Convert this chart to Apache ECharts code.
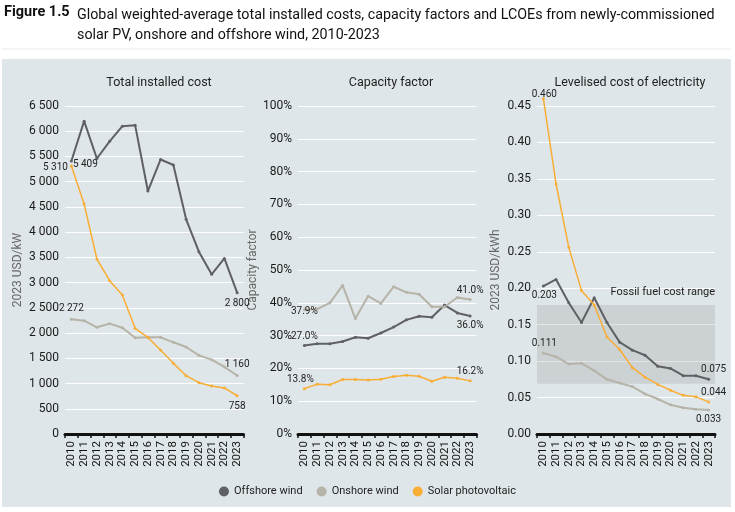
<!DOCTYPE html>
<html>
<head>
<meta charset="utf-8">
<script src="https://cdn.jsdelivr.net/npm/echarts@6/dist/echarts.min.js"></script>
<style>html,body{margin:0;padding:0;background:#fff}#c{width:735px;height:512px}</style>
</head>
<body>
<div id="c"></div>
<script>
const years = ['2010','2011','2012','2013','2014','2015','2016','2017','2018','2019','2020','2021','2022','2023'];
// Total installed cost (2023 USD/kW)
const costOffshore = [5409,6200,5460,5800,6100,6120,4815,5440,5330,4255,3613,3164,3480,2800];
const costOnshore  = [2272,2245,2114,2187,2107,1909,1915,1915,1817,1724,1559,1473,1328,1160];
const costSolar    = [5310,4558,3468,3038,2755,2094,1915,1665,1400,1156,1017,951,912,758];
// Capacity factor (%)
const cfOffshore = [27.0,27.5,27.5,28.2,29.5,29.2,30.8,32.6,34.8,35.9,35.6,39.3,36.9,36.0];
const cfOnshore  = [37.9,38.1,40.0,45.3,35.2,42.0,39.8,44.9,43.2,42.6,38.8,38.8,41.6,41.0];
const cfSolar    = [13.8,15.2,15.0,16.6,16.6,16.5,16.7,17.5,17.9,17.6,16.1,17.3,17.0,16.2];
// LCOE (2023 USD/kWh)
const lcoeOffshore = [0.203,0.212,0.180,0.153,0.187,0.153,0.126,0.115,0.108,0.093,0.090,0.080,0.080,0.075];
const lcoeOnshore  = [0.111,0.106,0.096,0.097,0.087,0.075,0.070,0.065,0.055,0.048,0.040,0.036,0.034,0.033];
const lcoeSolar    = [0.460,0.343,0.256,0.197,0.177,0.133,0.116,0.091,0.078,0.068,0.060,0.053,0.051,0.044];
const fossilRange  = [0.069, 0.177];
const costTicks = [0, 6500, 500];

const C_OFF = '#5f6064', C_ON = '#b6b3a8', C_SOL = '#f8ae35';
const FONT = 'Roboto, "Noto Sans", sans-serif';

function thousands(v){ return String(v).replace(/\B(?=(\d{3})+(?!\d))/g, ' '); }

// label placement for first/last points: [position, offset, distance]
function mk(values, fmt, firstPos, lastPos){
  return values.map((v, i) => {
    const item = { value: v };
    let p = null;
    if (i === 0 && firstPos) p = firstPos;
    if (i === values.length - 1 && lastPos) p = lastPos;
    if (p) {
      item.label = { show: true, position: p[0], offset: p[1] || [0,0], formatter: () => fmt(v),
        fontSize: 10, color: '#222', fontFamily: FONT, distance: p[2] !== undefined ? p[2] : 3 };
    }
    return item;
  });
}
const fCost = v => thousands(v);
const fCf = v => v.toFixed(1) + '%';
const fL = v => v.toFixed(3);

function line(name, color, idx, data, width, extra){
  return Object.assign({
    name, type: 'line', xAxisIndex: idx, yAxisIndex: idx, data,
    symbol: 'circle', symbolSize: 3, showSymbol: true,
    lineStyle: { color, width: width }, itemStyle: { color },
    emphasis: { disabled: true }, animation: false, z: 3
  }, extra || {});
}

const grids = [
  { left: 65, top: 106, width: 178.5, height: 328 },
  { left: 298, top: 106, width: 178.5, height: 328 },
  { left: 537, top: 106, width: 178, height: 328 }
];

const xAxes = grids.map((g, i) => ({
  type: 'category', gridIndex: i, data: years, boundaryGap: true,
  axisLine: { lineStyle: { color: '#111', width: 3 } },
  axisTick: { show: true, length: 4, lineStyle: { color: '#111', width: 1.5 }, interval: 0 },
  axisLabel: { rotate: 90, interval: 0, fontSize: 11.5, color: '#111', margin: 7, fontFamily: FONT }
}));

const yBase = {
  splitLine: { lineStyle: { color: '#ffffff', width: 1 } },
  axisLine: { show: false }, axisTick: { show: false },
  nameLocation: 'middle', nameTextStyle: { color: '#666', fontSize: 12, fontFamily: FONT }
};
const yAxes = [
  Object.assign({}, yBase, { type: 'value', gridIndex: 0, min: costTicks[0], max: costTicks[1], interval: costTicks[2],
    name: '2023 USD/kW', nameGap: 41,
    axisLabel: { formatter: v => thousands(v), fontSize: 12, color: '#1a1a1a', margin: 6, fontFamily: FONT } }),
  Object.assign({}, yBase, { type: 'value', gridIndex: 1, min: 0, max: 100, interval: 10,
    name: 'Capacity factor', nameGap: 31,
    axisLabel: { formatter: '{value}%', fontSize: 12, color: '#1a1a1a', margin: 6, fontFamily: FONT } }),
  Object.assign({}, yBase, { type: 'value', gridIndex: 2, min: 0, max: 0.45, interval: 0.05,
    name: '2023 USD/kWh', nameGap: 35,
    axisLabel: { formatter: v => v.toFixed(2), fontSize: 12, color: '#1a1a1a', margin: 6, fontFamily: FONT } })
];

const series = [
  line('Offshore wind', C_OFF, 0, mk(costOffshore, fCost, ['right',[ -2, 3 ],2], ['bottom',[ 0, 0 ],4]), 2),
  line('Onshore wind', C_ON, 0, mk(costOnshore, fCost, ['top',[ 0, 0 ],4], ['top',[ 0, 0 ],4]), 2),
  line('Solar photovoltaic', C_SOL, 0, mk(costSolar, fCost, ['left',[ 0, 1 ],2], ['bottom',[ 0, 0 ],4]), 1.5),

  line('Offshore wind', C_OFF, 1, mk(cfOffshore, fCf, ['top',[ 0, 0 ],2], ['bottom',[ 0, 0 ],3]), 2),
  line('Onshore wind', C_ON, 1, mk(cfOnshore, fCf, ['inside',[ 0, 2 ]], ['top',[ 0, 0 ],3]), 2),
  line('Solar photovoltaic', C_SOL, 1, mk(cfSolar, fCf, ['top',[ -4, 0 ],3], ['top',[ 0, 0 ],3]), 1.5),

  line('Offshore wind', C_OFF, 2, mk(lcoeOffshore, fL, ['bottom',[ 1, 0 ],3], ['top',[ 5, 0 ],3]), 2),
  line('Onshore wind', C_ON, 2, mk(lcoeOnshore, fL, ['top',[ 1, 0 ],3], ['bottom',[ 0, 0 ],3]), 2),
  line('Solar photovoltaic', C_SOL, 2, mk(lcoeSolar, fL, ['top',[ 1, 3 ],1], ['top',[ 5, 0 ],3]), 1.5, { clip: false }),
  {
    name: 'fossil', type: 'line', xAxisIndex: 2, yAxisIndex: 2, data: [], silent: true,
    markArea: {
      silent: true,
      itemStyle: { color: 'rgba(150,152,156,0.26)' },
      label: { show: true, position: ['100%', -7], align: 'right', verticalAlign: 'bottom',
        formatter: 'Fossil fuel cost range', fontSize: 11, color: '#222', fontFamily: FONT },
      data: [[{ yAxis: fossilRange[0] }, { yAxis: fossilRange[1] }]]
    }
  }
];

const chart = echarts.init(document.getElementById('c'), null, { renderer: 'canvas' });
chart.setOption({
  animation: false,
  textStyle: { fontFamily: FONT },
  graphic: [
    { type: 'rect', z: -10, shape: { x: 2, y: 59, width: 729, height: 448 }, style: { fill: '#dfe6e9' }, silent: true },
    { type: 'line', z: -10, shape: { x1: 2, y1: 49, x2: 731, y2: 49 }, style: { stroke: '#e6eaec', lineWidth: 1 } },
    { type: 'text', left: 4, top: 5, style: { text: 'Figure 1.5', font: 'bold 14.5px ' + FONT, fill: '#111' } },
    { type: 'text', left: 77, top: 5, style: { text: 'Global weighted-average total installed costs, capacity factors and LCOEs from newly-commissioned\nsolar PV, onshore and offshore wind, 2010-2023', font: '14.3px ' + FONT, fill: '#111', lineHeight: 20 } }
  ],
  title: [
    { text: 'Total installed cost', left: 154, top: 71, textAlign: 'center', textStyle: { fontSize: 12.5, fontWeight: 'normal', color: '#222', fontFamily: FONT } },
    { text: 'Capacity factor', left: 386, top: 71, textAlign: 'center', textStyle: { fontSize: 12.5, fontWeight: 'normal', color: '#222', fontFamily: FONT } },
    { text: 'Levelised cost of electricity', left: 625, top: 71, textAlign: 'center', textStyle: { fontSize: 12.5, fontWeight: 'normal', color: '#222', fontFamily: FONT } }
  ],
  legend: {
    data: ['Offshore wind', 'Onshore wind', 'Solar photovoltaic'],
    left: 'center', top: 481, icon: 'circle', itemWidth: 10, itemHeight: 10, itemGap: 14,
    textStyle: { fontSize: 11, color: '#222', fontFamily: FONT }
  },
  grid: grids,
  xAxis: xAxes,
  yAxis: yAxes,
  series
});
</script>
</body>
</html>
